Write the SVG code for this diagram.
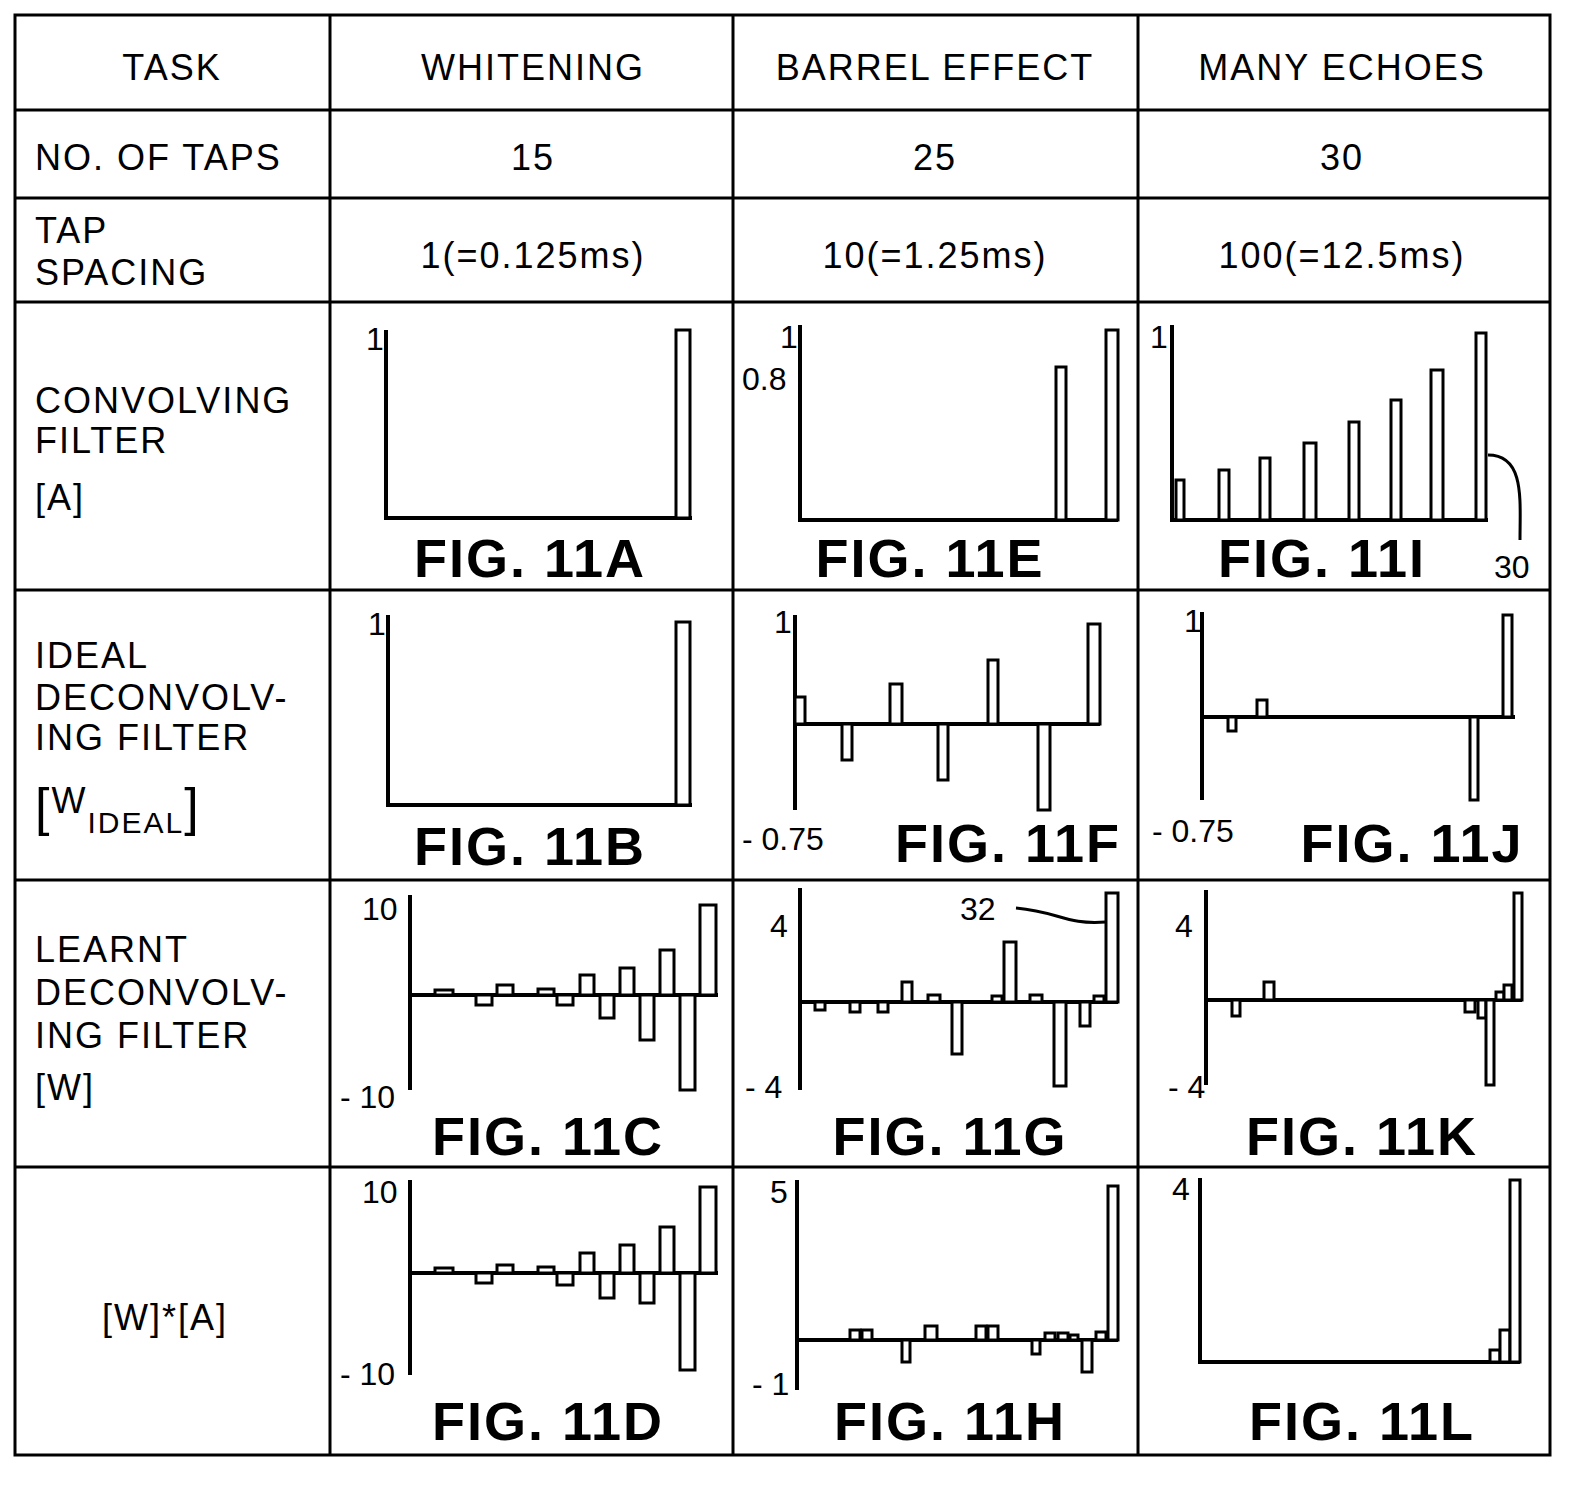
<svg xmlns="http://www.w3.org/2000/svg" width="1592" height="1490" viewBox="0 0 1592 1490">
<style>
.g{stroke:#000;stroke-width:3;fill:none}
.ax{stroke:#000;stroke-width:4;fill:none}
.b{stroke:#000;stroke-width:3;fill:#fff}
.t{font-family:"Liberation Sans",sans-serif;font-size:36px;letter-spacing:2px}
.c{text-anchor:middle}
.s{font-family:"Liberation Sans",sans-serif;font-size:32px}
.f{font-family:"Liberation Sans",sans-serif;font-size:54px;font-weight:bold;text-anchor:middle;letter-spacing:2px}
</style>
<rect width="1592" height="1490" fill="#fff"/>
<g id="grid" class="g">
<rect x="15" y="15" width="1535" height="1440"/>
<path d="M330 15V1455M733 15V1455M1138 15V1455M15 110H1550M15 198H1550M15 302H1550M15 590H1550M15 880H1550M15 1167H1550"/>
</g>
<g id="text">
<text class="t c" x="172" y="80">TASK</text>
<text class="t c" x="533" y="80">WHITENING</text>
<text class="t c" x="935" y="80">BARREL EFFECT</text>
<text class="t c" x="1342" y="80">MANY ECHOES</text>
<text class="t" x="35" y="170">NO. OF TAPS</text>
<text class="t c" x="533" y="170">15</text>
<text class="t c" x="935" y="170">25</text>
<text class="t c" x="1342" y="170">30</text>
<text class="t" x="35" y="243">TAP</text>
<text class="t" x="35" y="285">SPACING</text>
<text class="t c" x="533" y="268">1(=0.125ms)</text>
<text class="t c" x="935" y="268">10(=1.25ms)</text>
<text class="t c" x="1342" y="268">100(=12.5ms)</text>
<text class="t" x="35" y="413">CONVOLVING</text>
<text class="t" x="35" y="453">FILTER</text>
<text class="t" x="35" y="510">[A]</text>
<text class="t" x="35" y="668">IDEAL</text>
<text class="t" x="35" y="710">DECONVOLV-</text>
<text class="t" x="35" y="750">ING FILTER</text>
<text class="t" x="35" y="825"><tspan font-size="52">[</tspan><tspan dy="-12">W</tspan><tspan dy="20" font-size="30">IDEAL</tspan><tspan dy="-8" font-size="52">]</tspan></text>
<text class="t" x="35" y="962">LEARNT</text>
<text class="t" x="35" y="1005">DECONVOLV-</text>
<text class="t" x="35" y="1048">ING FILTER</text>
<text class="t" x="35" y="1100">[W]</text>
<text class="t c" x="165" y="1330">[W]*[A]</text>
<text class="f" x="530" y="577">FIG. 11A</text>
<text class="f" x="930" y="577">FIG. 11E</text>
<text class="f" x="1322" y="577">FIG. 11I</text>
<text class="f" x="530" y="865">FIG. 11B</text>
<text class="f" x="1008" y="862">FIG. 11F</text>
<text class="f" x="1412" y="862">FIG. 11J</text>
<text class="f" x="548" y="1155">FIG. 11C</text>
<text class="f" x="950" y="1155">FIG. 11G</text>
<text class="f" x="1362" y="1155">FIG. 11K</text>
<text class="f" x="548" y="1440">FIG. 11D</text>
<text class="f" x="950" y="1440">FIG. 11H</text>
<text class="f" x="1362" y="1440">FIG. 11L</text>
<text class="s" x="366" y="350">1</text>
<text class="s" x="368" y="635">1</text>
<text class="s" x="780" y="348">1</text>
<text class="s" x="742" y="390">0.8</text>
<text class="s" x="1150" y="348">1</text>
<text class="s" x="1494" y="578">30</text>
<text class="s" x="774" y="633">1</text>
<text class="s" x="742" y="850">- 0.75</text>
<text class="s" x="1184" y="632">1</text>
<text class="s" x="1152" y="842">- 0.75</text>
<text class="s" x="362" y="920">10</text>
<text class="s" x="340" y="1108">- 10</text>
<text class="s" x="770" y="937">4</text>
<text class="s" x="745" y="1098">- 4</text>
<text class="s" x="960" y="920">32</text>
<text class="s" x="1175" y="937">4</text>
<text class="s" x="1168" y="1098">- 4</text>
<text class="s" x="362" y="1203">10</text>
<text class="s" x="340" y="1385">- 10</text>
<text class="s" x="770" y="1203">5</text>
<text class="s" x="752" y="1395">- 1</text>
<text class="s" x="1172" y="1200">4</text>
</g>
<g id="charts">
<path class="ax" d="M386 330V518H692"/><rect class="b" x="676" y="330" width="14" height="188"/>
<path class="ax" d="M388 615V805H692"/><rect class="b" x="676" y="622" width="14" height="183"/>
<path class="ax" d="M800 325V520H1118"/><rect class="b" x="1056" y="367" width="10" height="153"/><rect class="b" x="1106" y="330" width="12" height="190"/>
<path class="ax" d="M1172 325V520H1488"/>
<rect class="b" x="1176" y="480" width="8" height="40"/><rect class="b" x="1219" y="470" width="10" height="50"/><rect class="b" x="1260" y="458" width="10" height="62"/><rect class="b" x="1304" y="443" width="12" height="77"/><rect class="b" x="1349" y="422" width="10" height="98"/><rect class="b" x="1391" y="400" width="10" height="120"/><rect class="b" x="1431" y="370" width="12" height="150"/><rect class="b" x="1476" y="333" width="10" height="187"/>
<path class="g" d="M1488 455C1525 455 1520 500 1520 540"/>
<path class="ax" d="M795 615V810M795 724H1100"/>
<rect class="b" x="795" y="697" width="10" height="27"/><rect class="b" x="842" y="724" width="10" height="36"/><rect class="b" x="890" y="684" width="12" height="40"/><rect class="b" x="938" y="724" width="10" height="56"/><rect class="b" x="988" y="660" width="10" height="64"/><rect class="b" x="1038" y="724" width="12" height="86"/><rect class="b" x="1088" y="624" width="12" height="100"/>
<path class="ax" d="M1202 612V800M1202 717H1515"/>
<rect class="b" x="1228" y="717" width="8" height="14"/><rect class="b" x="1257" y="700" width="10" height="17"/><rect class="b" x="1470" y="717" width="8" height="83"/><rect class="b" x="1503" y="615" width="9" height="102"/>
<path class="ax" d="M410 895V1090M410 995H718"/>
<rect class="b" x="435" y="990" width="18" height="5"/><rect class="b" x="476" y="995" width="16" height="10"/><rect class="b" x="497" y="985" width="16" height="10"/><rect class="b" x="538" y="989" width="16" height="6"/><rect class="b" x="557" y="995" width="16" height="10"/><rect class="b" x="580" y="975" width="14" height="20"/><rect class="b" x="600" y="995" width="14" height="23"/><rect class="b" x="620" y="968" width="14" height="27"/><rect class="b" x="640" y="995" width="14" height="45"/><rect class="b" x="660" y="950" width="14" height="45"/><rect class="b" x="680" y="995" width="15" height="95"/><rect class="b" x="700" y="905" width="16" height="90"/>
<path class="ax" d="M800 888V1090M800 1002H1118"/>
<rect class="b" x="815" y="1002" width="10" height="8"/><rect class="b" x="850" y="1002" width="10" height="10"/><rect class="b" x="878" y="1002" width="10" height="10"/><rect class="b" x="902" y="982" width="10" height="20"/><rect class="b" x="928" y="995" width="12" height="7"/><rect class="b" x="952" y="1002" width="10" height="52"/><rect class="b" x="992" y="996" width="10" height="6"/><rect class="b" x="1004" y="942" width="12" height="60"/><rect class="b" x="1030" y="995" width="12" height="7"/><rect class="b" x="1054" y="1002" width="12" height="84"/><rect class="b" x="1080" y="1002" width="10" height="24"/><rect class="b" x="1094" y="996" width="10" height="6"/><rect class="b" x="1106" y="893" width="12" height="109"/>
<path class="g" d="M1016 908C1060 912 1065 925 1106 922"/>
<path class="ax" d="M1206 890V1085M1206 1000H1522"/>
<rect class="b" x="1232" y="1000" width="8" height="16"/><rect class="b" x="1264" y="982" width="10" height="18"/><rect class="b" x="1465" y="1000" width="10" height="12"/><rect class="b" x="1478" y="1000" width="8" height="18"/><rect class="b" x="1486" y="1000" width="8" height="85"/><rect class="b" x="1496" y="992" width="8" height="8"/><rect class="b" x="1504" y="985" width="8" height="15"/><rect class="b" x="1514" y="893" width="8" height="107"/>
<path class="ax" d="M410 1180V1375M410 1273H718"/>
<rect class="b" x="435" y="1268" width="18" height="5"/><rect class="b" x="476" y="1273" width="16" height="10"/><rect class="b" x="497" y="1265" width="16" height="8"/><rect class="b" x="538" y="1267" width="16" height="6"/><rect class="b" x="557" y="1273" width="16" height="12"/><rect class="b" x="580" y="1253" width="14" height="20"/><rect class="b" x="600" y="1273" width="14" height="25"/><rect class="b" x="620" y="1245" width="14" height="28"/><rect class="b" x="640" y="1273" width="14" height="30"/><rect class="b" x="660" y="1227" width="14" height="46"/><rect class="b" x="680" y="1273" width="15" height="97"/><rect class="b" x="700" y="1187" width="16" height="86"/>
<path class="ax" d="M797 1180V1390M797 1340H1118"/>
<rect class="b" x="850" y="1330" width="10" height="10"/><rect class="b" x="862" y="1330" width="10" height="10"/><rect class="b" x="902" y="1340" width="8" height="22"/><rect class="b" x="925" y="1326" width="12" height="14"/><rect class="b" x="976" y="1326" width="10" height="14"/><rect class="b" x="988" y="1326" width="10" height="14"/><rect class="b" x="1032" y="1340" width="8" height="14"/><rect class="b" x="1045" y="1333" width="10" height="7"/><rect class="b" x="1058" y="1333" width="10" height="7"/><rect class="b" x="1070" y="1335" width="8" height="5"/><rect class="b" x="1082" y="1340" width="10" height="32"/><rect class="b" x="1096" y="1332" width="10" height="8"/><rect class="b" x="1108" y="1186" width="10" height="154"/>
<path class="ax" d="M1200 1178V1362H1520"/>
<rect class="b" x="1490" y="1350" width="10" height="12"/><rect class="b" x="1500" y="1330" width="10" height="32"/><rect class="b" x="1510" y="1180" width="10" height="182"/>
</g>
</svg>
